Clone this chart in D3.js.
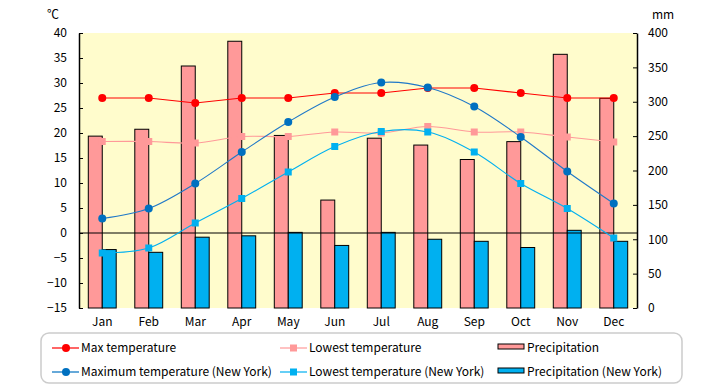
<!DOCTYPE html>
<html>
<head>
<meta charset="utf-8">
<script src="https://cdn.jsdelivr.net/npm/d3@7"></script>
<style>
  body { margin: 0; background: #fff; }
  text { font-family: "Noto Sans CJK JP", "DejaVu Sans", sans-serif; font-size: 12px; fill: #000; }
</style>
</head>
<body>
<div id="chart"></div>
<script>
// month labels
var months = ["Jan","Feb","Mar","Apr","May","Jun","Jul","Aug","Sep","Oct","Nov","Dec"];

// temperatures (°C)
var maxTemp   = [27, 27, 26, 27, 27, 28, 28, 29, 29, 28, 27, 27];
var lowTemp   = [18.3, 18.3, 18, 19.3, 19.3, 20.2, 20, 21.3, 20.2, 20.2, 19.2, 18.2];
var nyMaxTemp = [2.9, 4.9, 9.9, 16.2, 22.2, 27.2, 30.1, 29.1, 25.3, 19.2, 12.3, 5.9];
var nyLowTemp = [-4, -3, 2, 6.9, 12.2, 17.3, 20.3, 20.2, 16.2, 9.9, 4.9, -1];

// precipitation (mm)
var precip   = [250, 260, 352, 388, 251, 157, 247, 237, 216, 242, 369, 305];
var nyPrecip = [85, 81, 103, 105, 110, 91, 110, 100, 97, 88, 113, 97];

// axis ticks
var tempTicks = [-15, -10, -5, 0, 5, 10, 15, 20, 25, 30, 35, 40];
var mmTicks = [0, 50, 100, 150, 200, 250, 300, 350, 400];

var width = 720, height = 385;
var plotLeft = 79, plotRight = 637, plotTop = 33, plotBottom = 308;

var svg = d3.select("#chart")
  .append("svg")
  .attr("width", width)
  .attr("height", height);

// scales
var xScale = d3.scaleBand().domain(months).range([plotLeft, plotRight]).padding(0);
var yTemp = d3.scaleLinear().domain([-15, 40]).range([plotBottom, plotTop]);
var yMm = d3.scaleLinear().domain([0, 400]).range([plotBottom, plotTop]);
var cx = function(d, i) { return xScale(months[i]) + xScale.bandwidth() / 2; };
var barW = xScale.bandwidth() * 0.3;

// plot background
svg.append("rect")
  .attr("x", plotLeft).attr("y", plotTop)
  .attr("width", plotRight - plotLeft).attr("height", plotBottom - plotTop)
  .attr("fill", "#fffccc");

// precipitation bars
svg.selectAll(".bar")
  .data(precip)
  .enter()
  .append("rect")
  .attr("class", "bar")
  .attr("x", function(d, i) { return cx(d, i) - barW; })
  .attr("y", function(d) { return yMm(d); })
  .attr("width", barW)
  .attr("height", function(d) { return yMm(0) - yMm(d); })
  .attr("fill", "#ff9999")
  .attr("stroke", "#000")
  .attr("stroke-width", 1);

svg.selectAll(".nybar")
  .data(nyPrecip)
  .enter()
  .append("rect")
  .attr("class", "nybar")
  .attr("x", function(d, i) { return cx(d, i); })
  .attr("y", function(d) { return yMm(d); })
  .attr("width", barW)
  .attr("height", function(d) { return yMm(0) - yMm(d); })
  .attr("fill", "#00b0f0")
  .attr("stroke", "#000")
  .attr("stroke-width", 1);

// zero line
svg.append("line")
  .attr("x1", plotLeft).attr("x2", plotRight)
  .attr("y1", yTemp(0)).attr("y2", yTemp(0))
  .attr("stroke", "#000");

// axes (ticks point inward)
var yAxisL = d3.axisLeft(yTemp).tickValues(tempTicks).tickSize(0).tickPadding(12)
  .tickFormat(function(d) { return d < 0 ? "\u2212" + Math.abs(d) : d; });
var gL = svg.append("g").attr("transform", "translate(" + plotLeft + ",0)").call(yAxisL);
gL.select(".domain").attr("stroke", "#000").attr("stroke-width", 1.5);
gL.selectAll(".tick line").remove();
gL.selectAll(".tick").append("line").attr("x1", 0).attr("x2", 4).attr("stroke", "#000");
gL.selectAll("text").style("font-size", "12px").style("font-family", "'Noto Sans CJK JP', sans-serif");

var yAxisR = d3.axisRight(yMm).tickValues(mmTicks).tickSize(0).tickPadding(11);
var gR = svg.append("g").attr("transform", "translate(" + plotRight + ",0)").call(yAxisR);
gR.select(".domain").attr("stroke", "#000").attr("stroke-width", 1.5);
gR.selectAll(".tick").append("line").attr("x1", 0).attr("x2", -4).attr("stroke", "#000");
gR.selectAll("text").style("font-size", "12px").style("font-family", "'Noto Sans CJK JP', sans-serif");

var xAxis = d3.axisBottom(xScale).tickSize(0).tickPadding(9);
var gX = svg.append("g").attr("transform", "translate(0," + plotBottom + ")").call(xAxis);
gX.select(".domain").remove();
gX.selectAll("text").style("font-size", "12px").style("font-family", "'Noto Sans CJK JP', sans-serif");

// unit labels
svg.append("text").attr("x", 53).attr("y", 19).attr("text-anchor", "middle").text("\u2103");
svg.append("text").attr("x", 663).attr("y", 19).attr("text-anchor", "middle").text("mm");

// lines and markers
var series = [
  { values: lowTemp,   color: "#ff9999", shape: "square", curve: d3.curveCatmullRom },
  { values: maxTemp,   color: "#ff0000", shape: "circle", curve: d3.curveLinear },
  { values: nyLowTemp, color: "#00b0f0", shape: "square", curve: d3.curveCatmullRom },
  { values: nyMaxTemp, color: "#1f78c8", shape: "circle", curve: d3.curveCatmullRom }
];

series.forEach(function(s) {
  var line = d3.line()
    .x(function(d, i) { return cx(d, i); })
    .y(function(d) { return yTemp(d); })
    .curve(s.curve);

  svg.append("path")
    .datum(s.values)
    .attr("d", line)
    .attr("fill", "none")
    .attr("stroke", s.color)
    .attr("stroke-width", 1.1);

  if (s.shape === "circle") {
    svg.selectAll(null)
      .data(s.values)
      .enter()
      .append("circle")
      .attr("cx", cx)
      .attr("cy", function(d) { return yTemp(d); })
      .attr("r", 4)
      .attr("fill", s.color === "#1f78c8" ? "#0070c0" : s.color);
  } else {
    svg.selectAll(null)
      .data(s.values)
      .enter()
      .append("rect")
      .attr("x", function(d, i) { return cx(d, i) - 3.5; })
      .attr("y", function(d) { return yTemp(d) - 3.5; })
      .attr("width", 7)
      .attr("height", 7)
      .attr("fill", s.color);
  }
});

// legend
svg.append("rect")
  .attr("x", 41).attr("y", 333)
  .attr("width", 641).attr("height", 50)
  .attr("rx", 8)
  .attr("fill", "#fff")
  .attr("stroke", "#cccccc")
  .attr("stroke-width", 1.5);

var legendItems = [
  { label: "Max temperature", color: "#ff0000", shape: "circle", x: 52, y: 348 },
  { label: "Lowest temperature", color: "#ff9999", shape: "square", x: 280, y: 348 },
  { label: "Precipitation", color: "#ff9999", shape: "bar", x: 498, y: 348 },
  { label: "Maximum temperature (New York)", color: "#0070c0", shape: "circle", x: 52, y: 372 },
  { label: "Lowest temperature (New York)", color: "#00b0f0", shape: "square", x: 280, y: 372 },
  { label: "Precipitation (New York)", color: "#00b0f0", shape: "bar", x: 498, y: 372 }
];

legendItems.forEach(function(d) {
  var g = svg.append("g");
  if (d.shape === "bar") {
    g.append("rect")
      .attr("x", d.x).attr("y", d.y - 4)
      .attr("width", 26).attr("height", 5)
      .attr("fill", d.color).attr("stroke", "#000").attr("stroke-width", 1);
  } else {
    g.append("line")
      .attr("x1", d.x).attr("x2", d.x + 27)
      .attr("y1", d.y).attr("y2", d.y)
      .attr("stroke", d.color).attr("stroke-width", 1.2);
    if (d.shape === "circle") {
      g.append("circle").attr("cx", d.x + 14).attr("cy", d.y).attr("r", 4).attr("fill", d.color);
    } else {
      g.append("rect").attr("x", d.x + 10).attr("y", d.y - 3.5).attr("width", 7).attr("height", 7).attr("fill", d.color);
    }
  }
  g.append("text")
    .attr("x", d.x + 29)
    .attr("y", d.y)
    .attr("dy", "0.35em")
    .text(d.label);
});
</script>
</body>
</html>
